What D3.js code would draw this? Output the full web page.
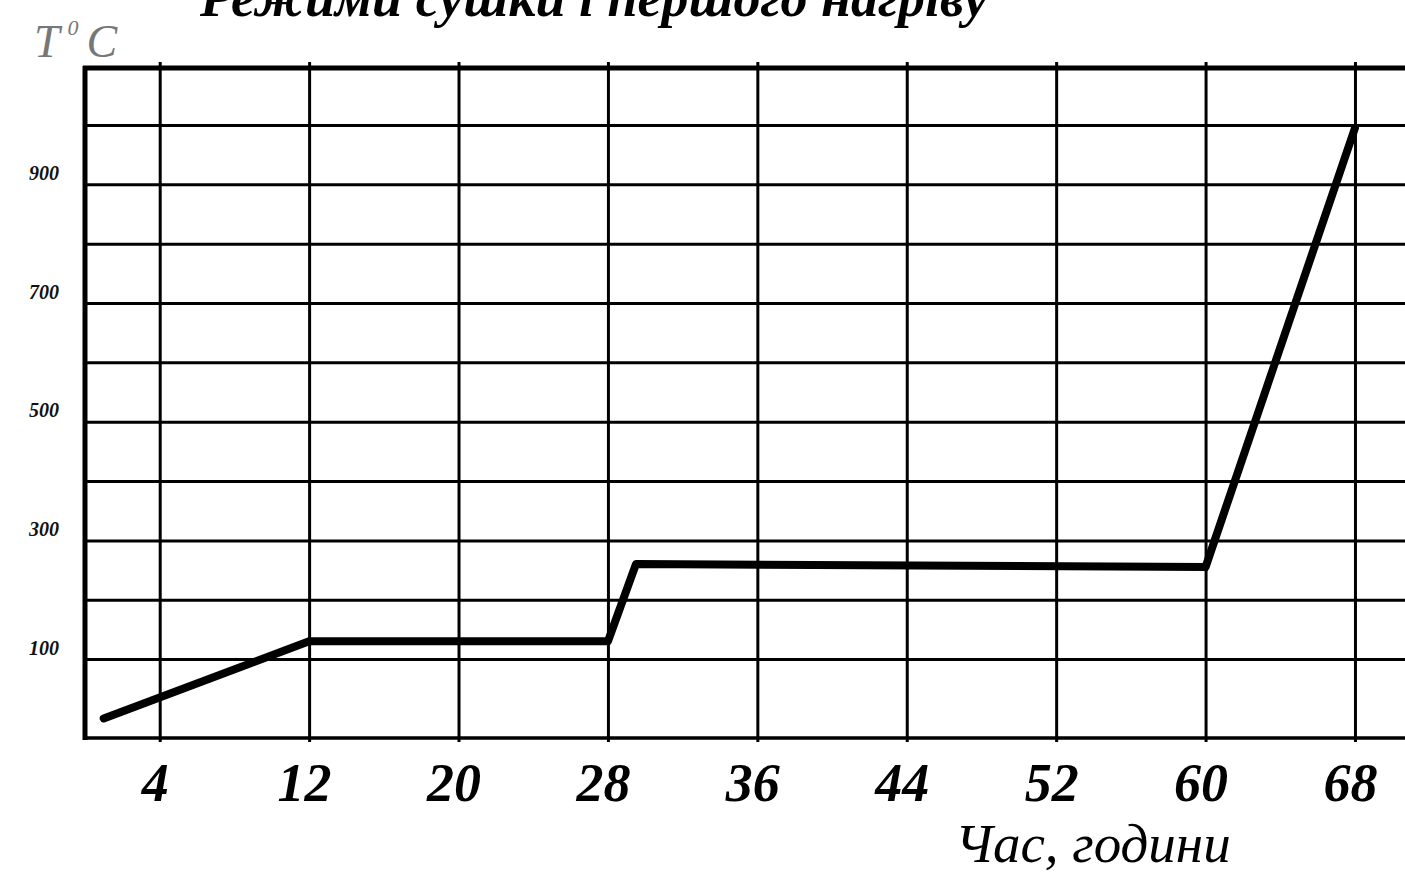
<!DOCTYPE html>
<html>
<head>
<meta charset="utf-8">
<script src="https://cdn.jsdelivr.net/npm/d3@7"></script>
<style>
  html, body { margin: 0; padding: 0; background: #fff; overflow: hidden; }
  svg { display: block; }
</style>
</head>
<body>
<svg id="chart" width="1405" height="872"></svg>
<script>
// ---- data ----
const hours = [1, 12, 28, 29.5, 60, 68];
const temps = [0, 130, 130, 260, 255, 995];
const xTicks = [4, 12, 20, 28, 36, 44, 52, 60, 68];
const yGrid = [100, 200, 300, 400, 500, 600, 700, 800, 900, 1000];
const yLabels = [100, 300, 500, 700, 900];
const titleText = "Режими сушки і першого нагріву";
const xTitle = "Час, години";

// ---- layout ----
const W = 1405, H = 872;
const mLeft = 85, mTop = 68, mBottom = 738, mRight = 1411;
const svg = d3.select("#chart");
svg.append("rect").attr("width", W).attr("height", H).attr("fill", "#fff");

const x = d3.scaleLinear().domain([0, 71]).range([mLeft, mRight]);
const y = d3.scaleLinear().domain([-33, 1096]).range([mBottom, mTop]);

const serif = "'Liberation Serif', 'DejaVu Serif', serif";

// vertical grid + x labels
const xAxis = d3.axisBottom(x)
  .tickValues(xTicks)
  .tickSize(-(mBottom - mTop) - 6)
  .tickSizeOuter(0)
  .tickPadding(0)
  .tickFormat(d3.format("d"));
const gx = svg.append("g").attr("transform", `translate(0,${mBottom})`).call(xAxis);
gx.select(".domain").remove();
gx.selectAll(".tick line").attr("stroke", "#000").attr("stroke-width", 3)
  .attr("y2", -(mBottom - mTop) - 6).attr("y1", 4);
gx.selectAll(".tick text")
  .attr("fill", "#000")
  .attr("font-family", serif)
  .attr("font-style", "italic")
  .attr("font-weight", "bold")
  .attr("font-size", 54)
  .attr("dy", 0)
  .attr("y", 63)
  .attr("dx", -5);

// horizontal grid + y labels
const yAxis = d3.axisLeft(y)
  .tickValues(yGrid)
  .tickSize(-(mRight - mLeft))
  .tickSizeOuter(0)
  .tickPadding(26)
  .tickFormat(d => yLabels.includes(d) ? String(d) : "");
const gy = svg.append("g").attr("transform", `translate(${mLeft},0)`).call(yAxis);
gy.select(".domain").remove();
gy.selectAll(".tick line").attr("stroke", "#000").attr("stroke-width", 3);
gy.selectAll(".tick text")
  .attr("fill", "#111")
  .attr("font-family", serif)
  .attr("font-style", "italic")
  .attr("font-weight", "bold")
  .attr("font-size", 20)
  .attr("dy", "-0.25em");

// frame: left axis, top border, bottom axis
svg.append("line").attr("x1", x(0)).attr("x2", x(0)).attr("y1", y(1096) - 2).attr("y2", y(-33) + 2)
  .attr("stroke", "#000").attr("stroke-width", 5);
svg.append("line").attr("x1", x(0) - 2).attr("x2", mRight).attr("y1", y(1096)).attr("y2", y(1096))
  .attr("stroke", "#000").attr("stroke-width", 5);
svg.append("line").attr("x1", x(0) - 2).attr("x2", mRight).attr("y1", y(-33)).attr("y2", y(-33))
  .attr("stroke", "#000").attr("stroke-width", 3.5);

// data line
const pts = hours.map((h, i) => [h, temps[i]]);
svg.append("path")
  .datum(pts)
  .attr("fill", "none")
  .attr("stroke", "#000")
  .attr("stroke-width", 8)
  .attr("stroke-linejoin", "round")
  .attr("stroke-linecap", "round")
  .attr("d", d3.line().x(d => x(d[0])).y(d => y(d[1])));

// title (cut off at top, as in the original scan)
svg.append("text")
  .attr("x", 200).attr("y", 16)
  .attr("font-family", serif)
  .attr("font-style", "italic")
  .attr("font-weight", "bold")
  .attr("font-size", 54)
  .attr("fill", "#000")
  .text(titleText);

// y-axis unit label T⁰C
const tl = svg.append("text")
  .attr("x", 34).attr("y", 57)
  .attr("font-family", serif)
  .attr("font-style", "italic")
  .attr("font-size", 46)
  .attr("fill", "#777");
tl.append("tspan").text("T");
tl.append("tspan").attr("font-size", 22).attr("dy", -22).attr("dx", 8).text("0");
tl.append("tspan").attr("dy", 22).attr("dx", 8).text("C");

// x-axis title
svg.append("text")
  .attr("x", 955).attr("y", 862)
  .attr("font-family", serif)
  .attr("font-style", "italic")
  .attr("font-size", 55)
  .attr("fill", "#000")
  .text(xTitle);
</script>
</body>
</html>
